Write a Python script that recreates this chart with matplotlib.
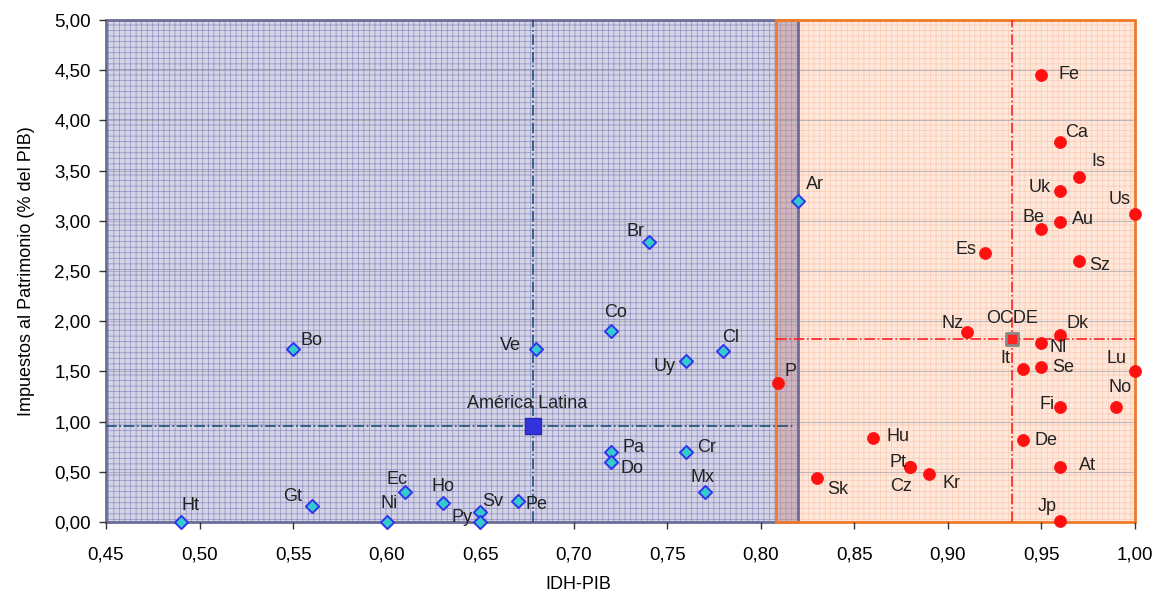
import matplotlib
matplotlib.use("Agg")
import matplotlib.pyplot as plt
from matplotlib.patches import Rectangle
from matplotlib.ticker import FuncFormatter, MultipleLocator

plt.rcParams['font.family'] = ['Liberation Sans', 'DejaVu Sans']
plt.rcParams['hatch.linewidth'] = 0.5

# América Latina (IDH-PIB, impuestos al patrimonio % PIB)
la_names = ["Ht", "Gt", "Bo", "Ni", "Ec", "Ho", "Sv", "Py", "Pe", "Ve", "Co", "Pa",
            "Do", "Uy", "Cr", "Mx", "Cl", "Ar", "Br"]
la_x = [0.49, 0.56, 0.55, 0.60, 0.61, 0.63, 0.65, 0.65, 0.67, 0.68, 0.72, 0.72,
        0.72, 0.76, 0.76, 0.77, 0.78, 0.82, 0.74]
la_y = [0.00, 0.16, 1.72, 0.00, 0.30, 0.19, 0.10, 0.00, 0.21, 1.72, 1.90, 0.70,
        0.60, 1.60, 0.70, 0.30, 1.70, 3.20, 2.79]

# OCDE
oe_names = ["P", "Fe", "Ca", "Is", "Uk", "Us", "Be", "Au", "Es", "Sz", "Nz", "Dk",
            "Nl", "It", "Se", "Lu", "No", "Fi", "Hu", "De", "At", "Pt", "Cz", "Kr",
            "Sk", "Jp"]
oe_x = [0.809, 0.95, 0.96, 0.97, 0.96, 1.00, 0.95, 0.96, 0.92, 0.97, 0.91, 0.96,
        0.95, 0.94, 0.95, 1.00, 0.99, 0.96, 0.86, 0.94, 0.96, 0.88, 0.88, 0.89,
        0.83, 0.96]
oe_y = [1.38, 4.45, 3.78, 3.44, 3.30, 3.07, 2.92, 2.99, 2.68, 2.60, 1.89, 1.86,
        1.78, 1.52, 1.54, 1.50, 1.15, 1.15, 0.84, 0.82, 0.55, 0.55, 0.55, 0.48,
        0.44, 0.01]

la_mean = (0.678, 0.96)
oe_mean = (0.934, 1.82)
la_zone = (0.45, 0.82)
oe_zone = (0.808, 1.00)

# label offsets in pixels (centre of text relative to the point)
la_off = {"Ht": (10, 17), "Gt": (-19, 9), "Bo": (18, 9), "Ni": (2, 19), "Ec": (-8, 12),
          "Ho": (0, 16), "Sv": (13, 10), "Py": (-18, 5), "Pe": (19, -4), "Ve": (-26, 4),
          "Co": (4, 19), "Pa": (22, 4), "Do": (21, -7), "Uy": (-21, -5), "Cr": (21, 4),
          "Mx": (-2, 14), "Cl": (7, 14), "Ar": (17, 16), "Br": (-13, 10)}
oe_off = {"P": (13, 12), "Fe": (28, 1), "Ca": (16, 10), "Is": (20, 15), "Uk": (-20, 3),
          "Us": (-15, 14), "Be": (-8, 11), "Au": (23, 2), "Es": (-19, 3), "Sz": (21, -5),
          "Nz": (-14, 9), "Dk": (17, 12), "Nl": (17, -4), "It": (-17, 11), "Se": (22, 0),
          "Lu": (-18, 13), "No": (4, 19), "Fi": (-13, 2), "Hu": (25, 1), "De": (23, -1),
          "At": (27, 1), "Pt": (-12, 4), "Cz": (-9, -20), "Kr": (22, -10), "Sk": (21, -12),
          "Jp": (-13, 14)}

fig = plt.figure(figsize=(11.58, 5.96), dpi=100)
ax = fig.add_axes([106 / 1158, 74 / 596, 1029 / 1158, 502 / 596])
ax.set_xlim(0.45, 1.00)
ax.set_ylim(0, 5)
for s in ax.spines.values():
    s.set_visible(False)

# shaded zones with fine grid pattern
ax.add_patch(Rectangle((la_zone[0], 0), la_zone[1] - la_zone[0], 5, facecolor='#d4d4e6',
                       edgecolor='#8e8ec0', hatch='+++', lw=0, zorder=0))
ax.add_patch(Rectangle((oe_zone[0], 0), oe_zone[1] - oe_zone[0], 5, facecolor='#fee8dc',
                       edgecolor='#fbcab0', hatch='+++', lw=0, zorder=0.1))
ax.add_patch(Rectangle((oe_zone[0], 0), la_zone[1] - oe_zone[0], 5, facecolor='#ccb6c2',
                       edgecolor='#b48e9e', hatch='+++', lw=0, zorder=0.2))

for yv in [0.5, 1, 1.5, 2, 2.5, 3, 3.5, 4, 4.5]:
    ax.axhline(yv, color='#8a8a9a', lw=0.8, alpha=0.5, zorder=0.5)

ax.add_patch(Rectangle((la_zone[0], 0), la_zone[1] - la_zone[0], 5, fill=False,
                       edgecolor='#6c6c98', lw=2, zorder=1, clip_on=False))
ax.add_patch(Rectangle((oe_zone[0], 0), oe_zone[1] - oe_zone[0], 5, fill=False,
                       edgecolor='#f07a28', lw=2, zorder=1.1, clip_on=False))

# mean lines
ax.plot([la_mean[0], la_mean[0]], [0, 5], color='#1f4e79', lw=1.2, ls='-.', zorder=2)
ax.plot([la_zone[0], la_zone[1] - 0.003], [la_mean[1], la_mean[1]], color='#1f4e79',
        lw=1.2, ls='-.', zorder=2)
ax.plot([oe_mean[0], oe_mean[0]], [0, 5], color='#ff2020', lw=1.2, ls='-.', zorder=2)
ax.plot([oe_zone[0], oe_zone[1]], [oe_mean[1], oe_mean[1]], color='#ff2020', lw=1.2,
        ls='-.', zorder=2)

# points
ax.scatter(la_x, la_y, marker='D', s=45, facecolor='#33cccc', edgecolor='#3333ee',
           linewidth=1.4, zorder=4, clip_on=False)
ax.scatter(oe_x, oe_y, marker='o', s=75, facecolor='#ff1010', edgecolor='#ff1010',
           linewidth=0.5, zorder=4, clip_on=False)
ax.scatter([la_mean[0]], [la_mean[1]], marker='s', s=120, facecolor='#3333dd',
           edgecolor='#2a2ab0', linewidth=1, zorder=5)
ax.scatter([oe_mean[0]], [oe_mean[1]], marker='s', s=80, facecolor='#ff2020',
           edgecolor='#888888', linewidth=2, zorder=5)

txt = dict(fontsize=13, color='#222222', ha='center', va='center', zorder=6,
           textcoords='offset pixels', annotation_clip=False)
for n, x, y in zip(la_names, la_x, la_y):
    ax.annotate(n, (x, y), xytext=la_off[n], **txt)
for n, x, y in zip(oe_names, oe_x, oe_y):
    ax.annotate(n, (x, y), xytext=oe_off[n], **txt)
ax.annotate("América Latina", la_mean, xytext=(-5, 22), **txt)
ax.annotate("OCDE", oe_mean, xytext=(1, 21), **txt)

ax.xaxis.set_major_locator(MultipleLocator(0.05))
ax.yaxis.set_major_locator(MultipleLocator(0.5))
comma = FuncFormatter(lambda v, p: f"{v:.2f}".replace('.', ','))
ax.xaxis.set_major_formatter(comma)
ax.yaxis.set_major_formatter(comma)
ax.tick_params(axis='both', direction='out', length=5, width=1, color='#333333',
               labelsize=13.5, labelcolor='black')
ax.tick_params(axis='x', pad=13)
ax.tick_params(axis='y', pad=6)

ax.set_ylabel("Impuestos al Patrimonio (% del PIB)", fontsize=13, labelpad=14)
fig.text(578 / 1158, 3 / 596, "IDH-PIB", fontsize=13, ha='center', va='bottom')

fig.savefig("out.png", dpi=100)
